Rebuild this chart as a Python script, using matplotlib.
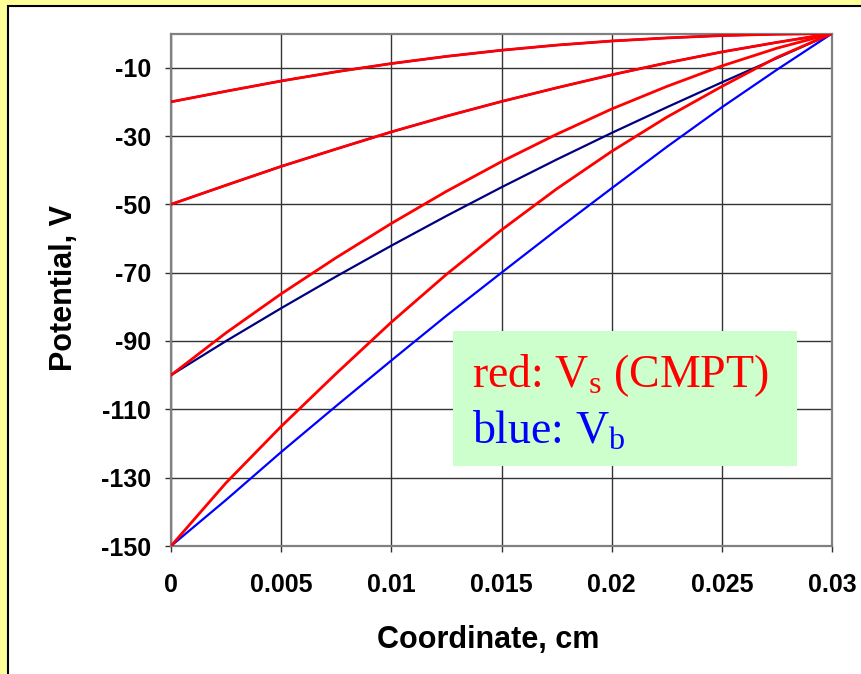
import numpy as np
import matplotlib
matplotlib.use('Agg')
import matplotlib.pyplot as plt
from matplotlib.patches import Rectangle

# 坐标 (cm)
x = [0, 0.0025, 0.005, 0.0075, 0.01, 0.0125, 0.015, 0.0175, 0.02, 0.0225, 0.025, 0.0275, 0.03]

# 红线: Vs (CMPT)
vs_20 = [-20, -16.9, -13.9, -11.2, -8.8, -6.7, -4.9, -3.4, -2.2, -1.3, -0.6, -0.2, 0]
vs_50 = [-50, -44.4, -38.9, -33.8, -28.8, -24.2, -19.9, -15.9, -12.1, -8.6, -5.4, -2.6, 0]
vs_100 = [-100, -87.6, -76.2, -65.6, -55.6, -46.2, -37.5, -29.5, -22.1, -15.5, -9.5, -4.3, 0]
vs_150 = [-150, -131.5, -115.0, -99.5, -84.5, -70.5, -57.5, -45.5, -34.5, -24.5, -15.5, -7.0, 0]

# 蓝线: Vb
vb_20 = [-20, -16.9, -13.9, -11.2, -8.8, -6.7, -4.9, -3.4, -2.2, -1.3, -0.6, -0.2, 0]
vb_50 = [-50, -44.4, -38.9, -33.8, -28.8, -24.2, -19.9, -15.9, -12.1, -8.6, -5.4, -2.6, 0]
vb_100 = [-100, -90.0, -80.4, -71.1, -62.1, -53.4, -45.0, -36.9, -29.1, -21.6, -14.3, -7.2, 0]
vb_150 = [-150, -136.5, -122.5, -109.0, -95.7, -82.6, -70.0, -57.5, -45.3, -33.2, -21.6, -10.6, 0]

x_ticks = [0, 0.005, 0.01, 0.015, 0.02, 0.025, 0.03]
x_labels = ['0', '0.005', '0.01', '0.015', '0.02', '0.025', '0.03']
y_ticks = [-150, -130, -110, -90, -70, -50, -30, -10]

W, H = 861, 674
plt.rcParams['font.family'] = ['Liberation Sans', 'DejaVu Sans']
plt.rcParams['mathtext.default'] = 'regular'
plt.rcParams['axes.unicode_minus'] = False
fig = plt.figure(figsize=(W / 100, H / 100), dpi=100, facecolor='#FFFF99')

# 白色底板
fig.patches.append(Rectangle((8 / W, -0.1), 1.2, 1 - 6 / H + 0.1, transform=fig.transFigure,
                             facecolor='white', edgecolor='black', lw=1.5, zorder=-5))

ax = fig.add_axes([171 / W, 1 - 546 / H, (832 - 171) / W, (546 - 33.5) / H])
ax.set_facecolor('white')

for vb, c in [(vb_20, 'blue'), (vb_50, 'blue'), (vb_100, '#000080'), (vb_150, 'blue')]:
    ax.plot(x, vb, color=c, lw=1.6, zorder=3)
for vs in [vs_20, vs_50, vs_100, vs_150]:
    ax.plot(x, vs, color='red', lw=2.0, zorder=4)

ax.set_xlim(0, 0.03)
ax.set_ylim(-150, 0)
ax.set_xticks(x_ticks)
ax.set_xticklabels(x_labels)
ax.set_yticks(y_ticks)
ax.grid(True, color='#333333', lw=1.0, zorder=1)
ax.set_axisbelow(True)
for s in ax.spines.values():
    s.set_color('#808080')
    s.set_linewidth(1.6)
ax.tick_params(direction='out', length=4.3, width=1.0, color='#333333')
ax.tick_params(axis='x', pad=15, labelsize=18)
ax.tick_params(axis='y', pad=10, labelsize=18)
for lab in ax.get_xticklabels() + ax.get_yticklabels():
    lab.set_fontweight('bold')

fig.text(488 / W, 1 - 640 / H, 'Coordinate, cm', ha='center', va='center',
         fontsize=22, fontweight='bold')
fig.text(64 / W, 1 - 288 / H, 'Potential, V', ha='center', va='center',
         rotation=90, fontsize=22, fontweight='bold')

# 图例框
ax.add_patch(Rectangle((453 / W, 1 - 466 / H), (797 - 453) / W, (466 - 331) / H,
                       transform=fig.transFigure, facecolor='#CCFFCC', edgecolor='none',
                       zorder=5, clip_on=False))
fig.text(472 / W, 1 - 387 / H, 'red: V$_{s}$ (CMPT)', color='red', fontsize=33,
         family=['Liberation Serif', 'DejaVu Serif'], ha='left', va='baseline', zorder=6)
fig.text(472 / W, 1 - 444 / H, 'blue: V$_{b}$', color='blue', fontsize=33,
         family=['Liberation Serif', 'DejaVu Serif'], ha='left', va='baseline', zorder=6)

fig.savefig('out.png', dpi=100, facecolor=fig.get_facecolor())
